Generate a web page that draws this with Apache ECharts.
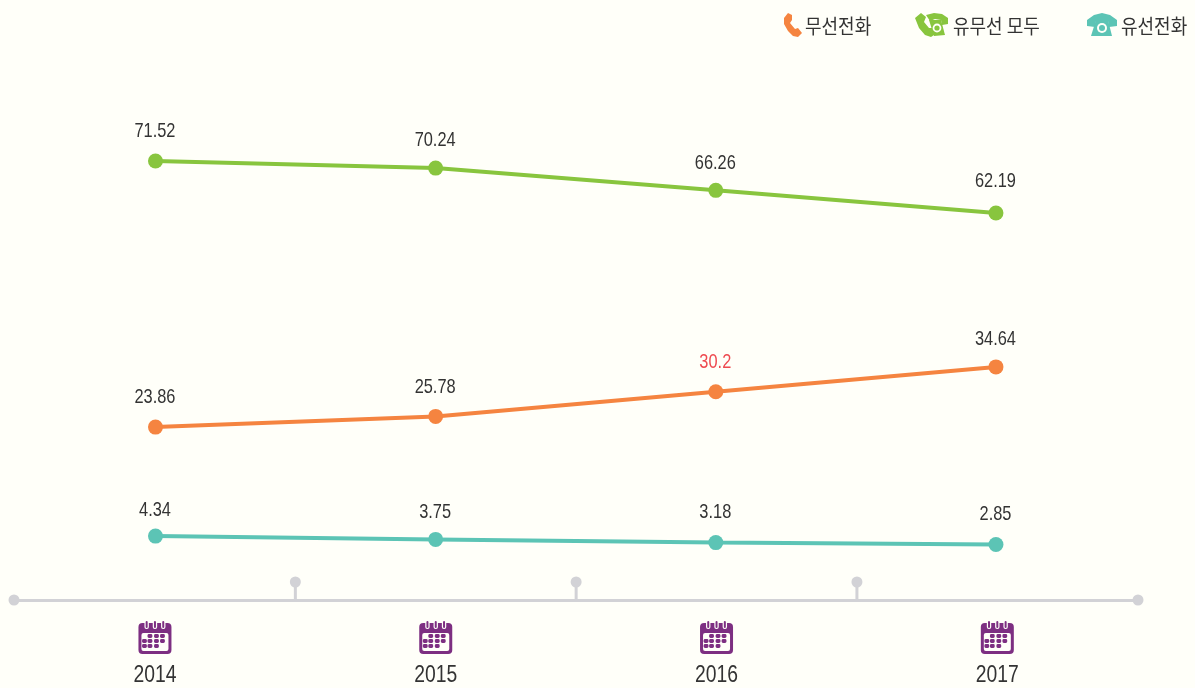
<!DOCTYPE html>
<html>
<head>
<meta charset="utf-8">
<style>
  html, body { margin: 0; padding: 0; background: #fffff9; }
  #chart { width: 1195px; height: 688px; }
</style>
<script src="https://cdn.jsdelivr.net/npm/echarts@6/dist/echarts.min.js"></script>
</head>
<body>
<div id="chart"></div>
<script>
const years = [2014, 2015, 2016, 2017]
const midTicks = [2014.5, 2015.5, 2016.5]
const seriesNames = ["무선전화", "유무선 모두", "유선전화"]
const mobile = [23.86, 25.78, 30.2, 34.64]
const both = [71.52, 70.24, 66.26, 62.19]
const landline = [4.34, 3.75, 3.18, 2.85]

const ORANGE = "#f58440"
const GREEN = "#88c53e"
const TEAL = "#5cc4b5"
const PURPLE = "#7d2f82"
const GREY = "#d2d2d6"
const RED = "#ee4a50"
const BG = "#fffff9"
const TEXT = "#333333"
const NUM_FONT = "'Liberation Sans', sans-serif"
const KR_FONT = "'Noto Sans CJK KR', sans-serif"
const Y_MIN = -7.1

const myChart = echarts.init(document.getElementById("chart"))

function lineSeries(name, values, color) {
  return {
    name: name,
    type: "line",
    xAxisIndex: 1,
    symbol: "circle",
    symbolSize: 15,
    lineStyle: { color: color, width: 4 },
    itemStyle: { color: color },
    data: values.map((v, i) => [years[i], v])
  }
}

// 数值标签，字体没有窄体，所以横向压缩
function labelSeries(values, shifts, redIndex) {
  return {
    type: "custom",
    xAxisIndex: 1,
    silent: true,
    clip: false,
    encode: { x: 0, y: 1 },
    data: values.map((v, i) => [years[i], v]),
    renderItem: (params, api) => {
      const p = api.coord([api.value(0), api.value(1)])
      return {
        type: "text",
        x: p[0] - 0.5,
        y: p[1] - shifts[params.dataIndex],
        scaleX: 0.78,
        style: {
          text: String(api.value(1)),
          fill: params.dataIndex === redIndex ? RED : TEXT,
          font: "21px " + NUM_FONT,
          textAlign: "center",
          textVerticalAlign: "middle"
        }
      }
    }
  }
}

// 坐标轴上的小圆点
function renderPin(params, api) {
  const p = api.coord([api.value(0), Y_MIN])
  return {
    type: "group",
    children: [
      { type: "rect", shape: { x: p[0] - 1.5, y: p[1] - 18, width: 3, height: 18 }, style: { fill: GREY } },
      { type: "circle", shape: { cx: p[0], cy: p[1] - 18, r: 5.5 }, style: { fill: GREY } }
    ]
  }
}

// 日历图标和年份
function renderYear(params, api) {
  const p = api.coord([api.value(0), Y_MIN])
  const cx = p[0]
  const top = p[1] + 21
  const children = [
    { type: "rect", shape: { x: cx - 16.5, y: top + 2, width: 33, height: 31, r: 4 }, style: { fill: PURPLE } },
    { type: "rect", shape: { x: cx - 13.5, y: top + 12, width: 27, height: 18, r: 2 }, style: { fill: BG } }
  ]
  ;[-8.3, 0, 8.3].forEach((dx) => {
    children.push({ type: "rect", shape: { x: cx + dx - 2.2, y: top - 1, width: 4.4, height: 9, r: 2 }, style: { fill: BG } })
    children.push({ type: "rect", shape: { x: cx + dx - 1, y: top, width: 2, height: 7, r: 1 }, style: { fill: PURPLE } })
  })
  const dots = [
    [-5, 15], [1.5, 15], [7.5, 15],
    [-10.5, 20], [-5, 20], [1.5, 20], [7.5, 20],
    [-10.5, 25], [-5, 25], [1.5, 25]
  ]
  dots.forEach((d) => {
    children.push({ type: "rect", shape: { x: cx + d[0] - 2.4, y: top + d[1] - 1.9, width: 4.8, height: 3.8, r: 1.4 }, style: { fill: PURPLE } })
  })
  children.push({
    type: "text",
    x: cx,
    y: p[1] + 76,
    scaleX: 0.84,
    style: {
      text: String(api.value(0)),
      fill: TEXT,
      font: "23px " + NUM_FONT,
      textAlign: "center",
      textVerticalAlign: "middle"
    }
  })
  return { type: "group", children: children }
}

function legendText(x, name) {
  return {
    type: "text",
    x: x,
    y: 26,
    scaleX: 0.9,
    style: {
      text: name,
      fill: TEXT,
      font: "20px " + KR_FONT,
      textAlign: "left",
      textVerticalAlign: "middle"
    }
  }
}

const legendIcons = [
  // 무선전화
  { type: "polygon", shape: { points: [[784, 18], [788, 13], [792, 15], [792, 20], [790, 23], [795, 29], [798, 28], [802, 33], [798, 37], [793, 36], [788, 31], [784, 24]] }, style: { fill: ORANGE } },
  // 유무선 모두
  { type: "polygon", shape: { points: [[915, 18], [921, 13], [926, 17], [924, 22], [929, 28], [933, 28], [937, 33], [931, 37], [925, 35], [919, 28]] }, style: { fill: GREEN } },
  { type: "polygon", shape: { points: [[926, 15], [934, 13], [942, 14], [948, 18], [948, 24], [942, 25], [941, 20], [935, 19], [930, 21]] }, style: { fill: GREEN } },
  { type: "polygon", shape: { points: [[929, 20], [941, 20], [945, 35], [934, 36]] }, style: { fill: GREEN } },
  { type: "circle", shape: { cx: 937, cy: 28, r: 4.4 }, style: { fill: BG } },
  { type: "circle", shape: { cx: 937, cy: 28, r: 2.6 }, style: { fill: GREEN } },
  // 유선전화
  { type: "polygon", shape: { points: [[1087, 26], [1087, 20], [1094, 15], [1102, 13], [1110, 15], [1117, 20], [1117, 26], [1109, 27], [1108, 21], [1102, 20], [1096, 21], [1095, 27]] }, style: { fill: TEAL } },
  { type: "polygon", shape: { points: [[1091, 36], [1112, 36], [1108, 20], [1096, 20]] }, style: { fill: TEAL } },
  { type: "circle", shape: { cx: 1102, cy: 28, r: 5 }, style: { fill: BG } },
  { type: "circle", shape: { cx: 1102, cy: 28, r: 3 }, style: { fill: TEAL } }
]

myChart.setOption({
  backgroundColor: BG,
  animation: false,
  grid: { left: 14, width: 1124, top: 41, height: 559 },
  xAxis: [
    {
      // 底部时间轴，比折线的刻度略宽
      type: "value",
      min: 2013.498,
      max: 2017.501,
      splitLine: { show: false },
      axisTick: { show: false },
      axisLabel: { show: false },
      axisLine: {
        show: true,
        onZero: false,
        symbol: ["circle", "circle"],
        symbolSize: [11, 11],
        symbolOffset: [0, 0],
        lineStyle: { color: GREY, width: 3 }
      }
    },
    { type: "value", min: 2013.495, max: 2017.507, show: false }
  ],
  yAxis: { type: "value", min: Y_MIN, max: 93, show: false },
  series: [
    lineSeries(seriesNames[1], both, GREEN),
    lineSeries(seriesNames[0], mobile, ORANGE),
    lineSeries(seriesNames[2], landline, TEAL),
    labelSeries(both, [30, 28, 27, 32], -1),
    labelSeries(mobile, [30, 29, 29, 28], 2),
    labelSeries(landline, [26, 27.5, 30, 30], -1),
    { type: "custom", renderItem: renderPin, silent: true, clip: false, encode: { x: 0 }, data: midTicks.map((t) => [t]) },
    { type: "custom", renderItem: renderYear, silent: true, clip: false, encode: { x: 0 }, data: years.map((t) => [t]) }
  ],
  graphic: legendIcons.concat([
    legendText(805, seriesNames[0]),
    legendText(953, seriesNames[1]),
    legendText(1121, seriesNames[2])
  ])
})
</script>
</body>
</html>
